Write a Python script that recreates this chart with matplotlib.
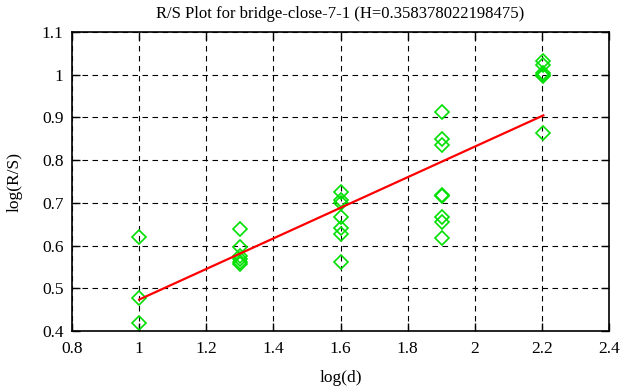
import matplotlib
matplotlib.use("Agg")
import matplotlib.pyplot as plt
import numpy as np

plt.rcParams['font.family'] = ['Liberation Serif', 'DejaVu Serif']

# R/S samples: log(d) groups and their log(R/S) values
log_d = [1.0, 1.30103, 1.60206, 1.90309, 2.20412]
log_rs = [
    [0.619, 0.477, 0.418],
    [0.639, 0.596, 0.575, 0.568, 0.562, 0.557],
    [0.726, 0.706, 0.700, 0.668, 0.640, 0.628, 0.562],
    [0.913, 0.849, 0.836, 0.719, 0.717, 0.666, 0.656, 0.617],
    [1.032, 1.022, 1.005, 1.000, 0.997, 0.863],
]
H = 0.358378022198475
intercept = 0.115

xs = np.concatenate([[d] * len(v) for d, v in zip(log_d, log_rs)])
ys = np.concatenate(log_rs)

fig = plt.figure(figsize=(6.26, 3.87), dpi=100)
ax = fig.add_axes([0.115, 0.145, 0.858, 0.772])

ax.plot(xs, ys, linestyle='none', marker='D', ms=7, mfc='none',
        mec='#00e000', mew=1.2)
fit_x = np.array([log_d[0], log_d[-1]])
ax.plot(fit_x, intercept + H * fit_x, color='red', lw=1.6)

ax.set_xlim(0.8, 2.4)
ax.set_ylim(0.4, 1.1)
ax.set_xticks(np.arange(0.8, 2.41, 0.2))
ax.set_yticks(np.arange(0.4, 1.11, 0.1))
ax.set_xticklabels(['0.8', '1', '1.2', '1.4', '1.6', '1.8', '2', '2.2', '2.4'])
ax.set_yticklabels(['0.4', '0.5', '0.6', '0.7', '0.8', '0.9', '1', '1.1'])
ax.grid(True, color='black', linestyle=(0, (5, 4)), linewidth=0.8)
ax.tick_params(direction='in', length=6, top=True, right=True,
               labelsize=12.5, width=1)
ax.tick_params(axis='x', pad=7)
ax.tick_params(axis='y', pad=6)
for s in ax.spines.values():
    s.set_linewidth(1.2)

ax.set_xlabel('log(d)', fontsize=12.5, labelpad=10)
ax.set_ylabel('log(R/S)', fontsize=12.5, labelpad=14)
ax.set_title('R/S Plot for bridge-close-7-1 (H=0.358378022198475)',
             fontsize=12, pad=10)

fig.savefig('out.png', dpi=100)
